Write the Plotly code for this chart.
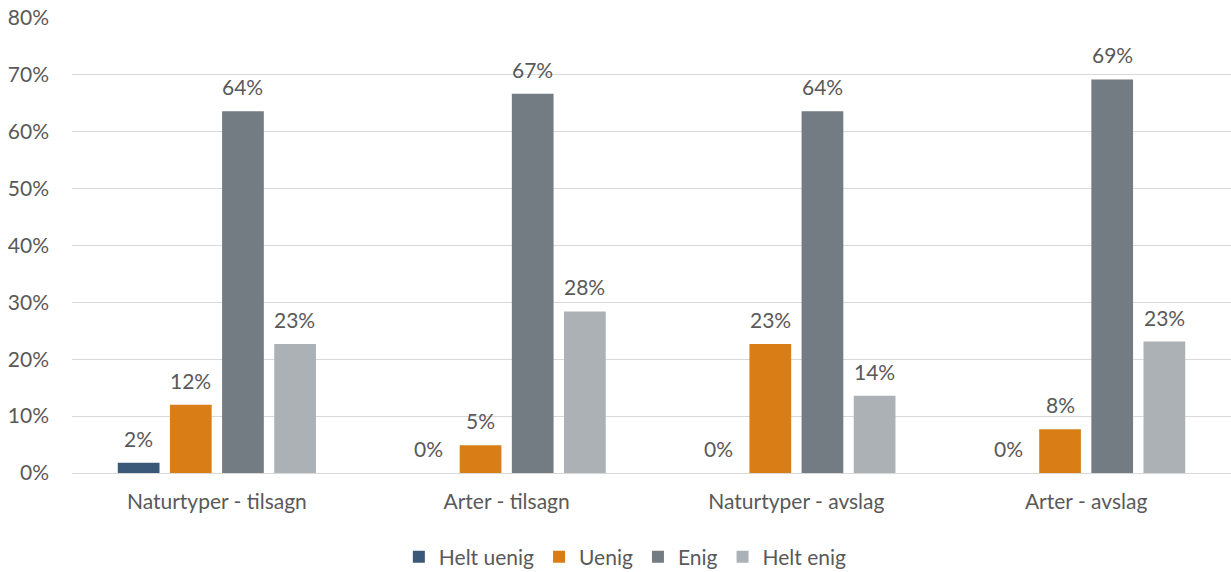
import plotly.graph_objects as go

categories = ["Naturtyper - tilsagn", "Arter - tilsagn", "Naturtyper - avslag", "Arter - avslag"]
series_names = ["Helt uenig", "Uenig", "Enig", "Helt enig"]
helt_uenig = [0.018, 0.0, 0.0, 0.0]
uenig = [0.12, 0.049, 0.227, 0.077]
enig = [0.636, 0.667, 0.636, 0.692]
helt_enig = [0.227, 0.284, 0.136, 0.231]
colors = ["#3A5878", "#D97D17", "#737B83", "#ACB1B6"]

font = "Lato, Open Sans, sans-serif"
text_color = "#595959"
fsize = 21

fig = go.Figure()
all_values = [helt_uenig, uenig, enig, helt_enig]
for name, vals, col in zip(series_names, all_values, colors):
    fig.add_trace(go.Bar(name=name, x=categories, y=vals, marker_color=col,
                         marker_line_width=0))

# data labels above bars
bar_pitch = 52
for i, vals in enumerate(all_values):
    for cat, v in zip(categories, vals):
        fig.add_annotation(x=cat, y=v, text=f"{v * 100:.0f}%", showarrow=False,
                           xshift=(i - 1.5) * bar_pitch, yshift=10, yanchor="bottom",
                           font=dict(family=font, size=fsize, color=text_color))

fig.update_layout(
    width=1231, height=572,
    margin=dict(l=72, r=0, t=18, b=99),
    paper_bgcolor="white", plot_bgcolor="white",
    barmode="group", bargap=0.28, bargroupgap=0.2,
    font=dict(family=font, size=fsize, color=text_color),
    legend=dict(orientation="h", xref="container", x=0.508, xanchor="center",
                yref="container", y=0.026, yanchor="middle",
                font=dict(size=fsize, color=text_color), itemwidth=30),
    showlegend=True,
)
fig.update_yaxes(range=[0, 0.8], dtick=0.1, tickformat=".0%", gridcolor="#D9D9D9",
                 gridwidth=1, zeroline=False, showline=False, ticks="",
                 automargin=False, ticklabelstandoff=22,
                 tickfont=dict(size=fsize, color=text_color))
fig.update_xaxes(showline=True, linecolor="#D9D9D9", ticks="", automargin=False,
                 ticklabelstandoff=10,
                 tickfont=dict(size=fsize, color=text_color))

fig.write_html("out.html", config={"displayModeBar": False},
               post_script="document.body.style.margin='0';")
